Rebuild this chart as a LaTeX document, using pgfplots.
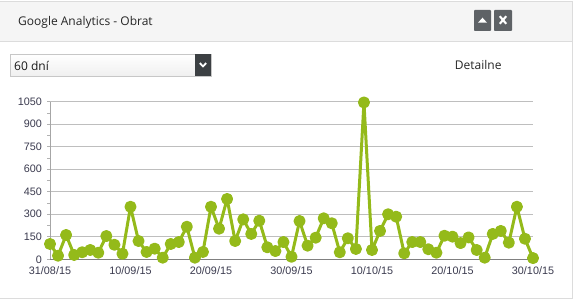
\documentclass[border=0pt]{standalone}
\usepackage{pgfplots}
\pgfplotsset{compat=1.18}
\usepackage{fontspec}
\newfontfamily\opensans{Open Sans}
\newfontfamily\tickfont{Liberation Sans}
\definecolor{linegreen}{HTML}{94BA1A}
\definecolor{hdrbg}{HTML}{F5F5F5}
\definecolor{hdrline}{HTML}{DCDCDC}
\definecolor{btn}{HTML}{5E6266}
\definecolor{ddbtn}{HTML}{3C4043}
\definecolor{ticktext}{HTML}{3A3A4E}
\definecolor{gridc}{HTML}{BEBEBE}
\begin{document}
\begin{tikzpicture}[x=1pt,y=1pt]
\path[use as bounding box, fill=white] (0,0) rectangle (575,300);
% header
\fill[hdrbg] (0,258.5) rectangle (572,299);
\draw[hdrline, line width=0.8pt] (0,299) -- (572,299);
\draw[hdrline, line width=0.8pt] (0,258.5) -- (572,258.5);
\draw[hdrline, line width=0.8pt] (572,299) -- (572,1.2) -- (0,1.2);
\node[anchor=base west, inner sep=0pt, text=black!85] at (18,274.3) {\opensans\fontsize{12}{14}\selectfont Google Analytics - Obrat};
% buttons
\fill[btn, rounded corners=0.8pt] (474,269) rectangle (491,290);
\fill[btn, rounded corners=0.8pt] (494,269) rectangle (512,290);
\fill[white] (478,277.3) -- (487,277.3) -- (482.5,282.3) -- cycle;
\draw[white, line width=2.1pt] (499.8,276.2) -- (506.2,283.8) (499.8,283.8) -- (506.2,276.2);
% dropdown
\shade[top color=white, bottom color=black!6] (10,224) rectangle (211,246);
\draw[black!22, line width=0.8pt] (10,224) rectangle (211,246);
\fill[ddbtn] (195,224) rectangle (211,246);
\draw[white, line width=1.8pt] (199.8,237) -- (203,233.6) -- (206.2,237);
\node[anchor=base west, inner sep=0pt, text=black!90] at (14,229.3) {\opensans\fontsize{12}{14}\selectfont 60 dní};
\node[anchor=base east, inner sep=0pt, text=black!85] at (501.7,230.7) {\opensans\fontsize{12}{14}\selectfont Detailne};
% chart
\begin{axis}[
  at={(50pt,40.7pt)}, anchor=south west,
  scale only axis, width=483pt, height=157.6pt,
  xmin=0, xmax=60, ymin=0, ymax=1050,
  clip=false,
  axis x line*=bottom, axis y line*=left,
  x axis line style={draw=black!50, line width=1.1pt},
  y axis line style={draw=black!35, line width=0.8pt},
  xtick={0,10,...,60},
  xticklabels={31/08/15,10/09/15,20/09/15,30/09/15,10/10/15,20/10/15,30/10/15},
  ytick={0,150,...,1050},
  minor ytick={75,225,...,975},
  ymajorgrids,
  major grid style={draw=gridc, line width=0.8pt},
  tick align=outside,
  major tick length=3pt, minor tick length=3pt,
  xtick style={draw=none},
  ytick style={draw=black!30, line width=0.8pt},
  minor tick style={draw=black!30, line width=0.8pt},
  ticklabel style={font=\tickfont\fontsize{10.8}{12}\selectfont, text=ticktext},
  /pgf/number format/assume math mode=true,
  yticklabel style={/pgf/number format/1000 sep={}},
  yticklabel style={xshift=-1.5pt},
  xticklabel style={yshift=-1pt},
]
\addplot[linegreen, line width=3pt, line join=round, line cap=round, mark=*, mark size=4.5pt, mark options={fill=linegreen, draw=none, solid}] coordinates {
(0,102) (1,24) (2,162) (3,29) (4,47) (5,62) (6,44) (7,155) (8,97) (9,37)
(10,350) (11,122) (12,49) (13,71) (14,11) (15,102) (16,115) (17,217) (18,11) (19,49)
(20,350) (21,204) (22,402) (23,122) (24,266) (25,169) (26,257) (27,80) (28,55) (29,115)
(30,17) (31,255) (32,91) (33,144) (34,273) (35,240) (36,47) (37,140) (38,69) (39,1045)
(40,62) (41,189) (42,300) (43,284) (44,40) (45,115) (46,115) (47,67) (48,44) (49,157)
(50,151) (51,108) (52,146) (53,62) (54,11) (55,169) (56,189) (57,111) (58,350) (59,137)
(60,8)
};
\end{axis}
\end{tikzpicture}
\end{document}
